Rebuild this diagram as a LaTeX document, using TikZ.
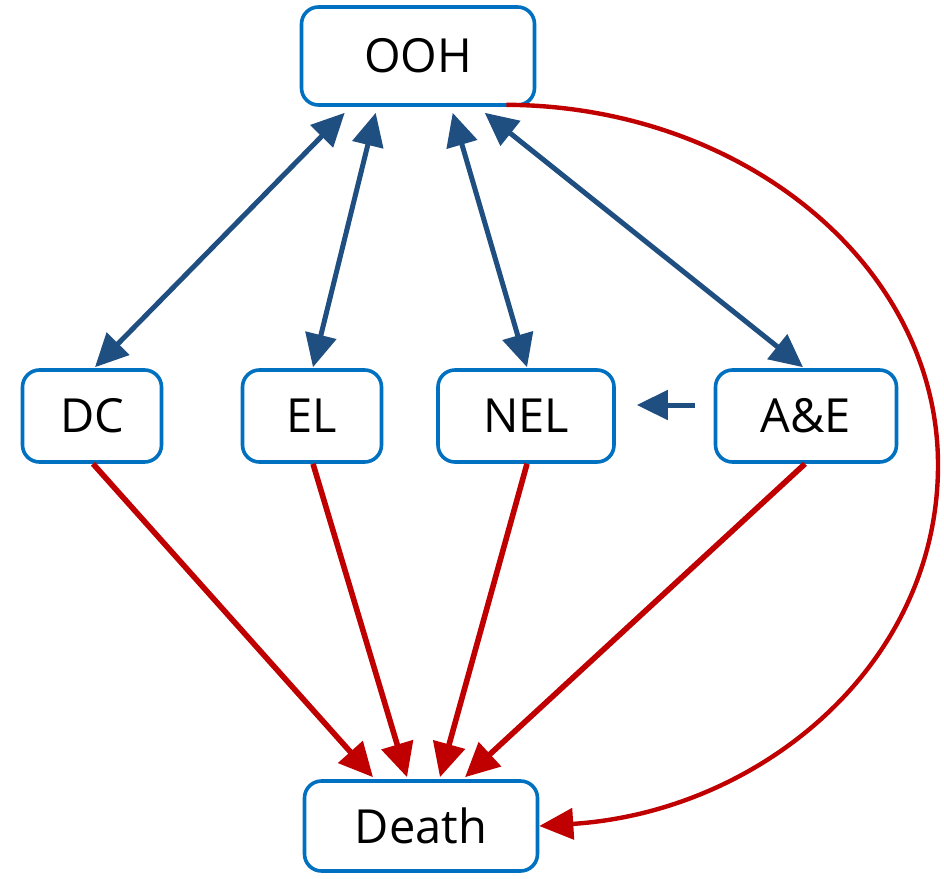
\documentclass[tikz,border=0pt]{standalone}
\usepackage{fontspec}
\setmainfont{Open Sans}
\usetikzlibrary{arrows.meta,calc}
\definecolor{boxblue}{RGB}{0,112,192}
\definecolor{arrblue}{RGB}{31,78,128}
\definecolor{arrred}{RGB}{192,0,0}
\begin{document}
\begin{tikzpicture}[x=1pt,y=-1pt,
  box/.style={draw=boxblue,line width=3.6pt,rounded corners=17pt,fill=white,
    inner sep=0pt,font=\fontsize{47}{54}\selectfont},
  bluearr/.style={draw=arrblue,line width=5pt,
    {Triangle[length=33pt,width=31pt]}-{Triangle[length=33pt,width=31pt]}},
  bluearrone/.style={draw=arrblue,line width=5pt,-{Triangle[length=31pt,width=29pt]}},
  redarr/.style={draw=arrred,line width=5.6pt,-{Triangle[length=34pt,width=32pt]}},
  redcurve/.style={draw=arrred,line width=4.4pt,-{Triangle[length=34pt,width=31pt]}}]
\useasboundingbox[fill=white] (0,0) rectangle (944,878);
\node[box,minimum width=233pt,minimum height=98pt] (OOH) at (418,56) {OOH};
\node[box,minimum width=139pt,minimum height=92pt] (DC) at (92,416) {DC};
\node[box,minimum width=139pt,minimum height=92pt] (EL) at (312,416) {EL};
\node[box,minimum width=176pt,minimum height=92pt] (NEL) at (526,416) {NEL};
\node[box,minimum width=181pt,minimum height=92pt] (AE) at (806,416) {A\&E};
\node[box,minimum width=233pt,minimum height=90pt] (Death) at (421,826) {Death};
\coordinate (bend) at (938,465);
% blue double arrows
\draw[bluearr] ($(OOH.south west)+(45,6)$) -- ($(DC.north)+(3,-1)$);
\draw[bluearr] ($(OOH.south west)+(76,6)$) -- ($(EL.north)+(1,-1)$);
\draw[bluearr] ($(OOH.south west)+(153,6)$) -- ($(NEL.north)+(1,-1)$);
\draw[bluearr] ($(OOH.south west)+(185,6)$) -- ($(AE.north)+(-3,-1)$);
\draw[bluearrone] ($(AE.west)+(-19,-11)$) -- ($(NEL.east)+(21,-11)$);
% red arrows
\draw[redarr] ($(DC.south)+(1,0)$) -- ($(Death.north)+(-48,-2)$);
\draw[redarr] ($(EL.south)+(1,0)$) -- ($(Death.north)+(-14,-2)$);
\draw[redarr] ($(NEL.south)+(1,0)$) -- ($(Death.north)+(19,-2)$);
\draw[redarr] ($(AE.south)+(-1,0)$) -- ($(Death.north)+(44,-2)$);
\draw[redcurve] ($(OOH.south east)+(-30,-2)$) .. controls (744,106) and (938,266) .. (bend)
  .. controls (938,665) and (760,812) .. (Death.east);
\end{tikzpicture}
\end{document}
